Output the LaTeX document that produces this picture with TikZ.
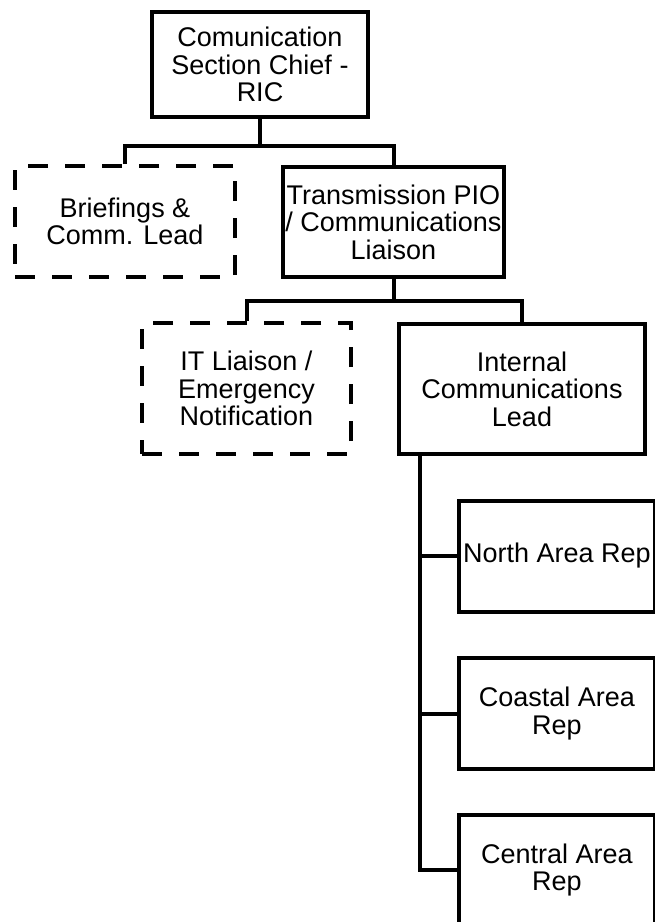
\documentclass[tikz,border=0pt]{standalone}
\usepackage{fontspec}
\setmainfont{Liberation Sans}
\usepackage{tikz}
\usetikzlibrary{positioning,calc}

\begin{document}
\begin{tikzpicture}[
  x=1pt, y=-1pt,
  font=\fontsize{27}{27.5}\selectfont,
  every node/.append style={align=center},
  box/.style={rectangle, draw, line width=4pt, inner sep=0pt, fill=white},
  dbox/.style={box, dash pattern=on 20pt off 17pt},
  conn/.style={line width=4pt}
]
\useasboundingbox (0,0) rectangle (654,922);
\node[box, minimum width=216pt, minimum height=105pt]  (chief)   at (260,64.5)   {Comunication\\Section Chief -\\RIC};
\node[dbox, minimum width=220pt, minimum height=111pt] (brief)   at (125,221.5)  {Briefings \&\\Comm. Lead};
\node[box, minimum width=221pt, minimum height=110pt]  (trans)   at (393.5,222)  {Transmission PIO\\/ Communications\\Liaison};
\node[dbox, minimum width=209pt, minimum height=131pt] (itl)     at (246.5,388.5) {IT Liaison /\\Emergency\\Notification};
\node[box, minimum width=246pt, minimum height=130pt]  (icl)     at (522,389)    {Internal\\Communications\\Lead};
\node[box, minimum width=196pt, minimum height=111pt]  (north)   at (557,556)    {North Area Rep};
\node[box, minimum width=196pt, minimum height=111pt]  (coastal) at (557,713.5)  {Coastal Area\\Rep};
\node[box, minimum width=196pt, minimum height=111pt]  (central) at (557,870)    {Central Area\\Rep};
% chief -> first level
\draw[conn] (chief.south) -- ++(0,26.5) coordinate (j1);
\draw[conn] (brief.north) |- (j1) -| (trans.north);
% transmission -> second level
\draw[conn] (trans.south) -- ++(0,22) coordinate (j2);
\draw[conn] (itl.north) |- (j2) -| (icl.north);
% internal lead -> area reps
\coordinate (s0) at ($(icl.south west)+(23,0)$);
\draw[conn] (s0) |- (central.west);
\draw[conn] (s0 |- north.west) -- (north.west);
\draw[conn] (s0 |- coastal.west) -- (coastal.west);
\end{tikzpicture}
\end{document}
